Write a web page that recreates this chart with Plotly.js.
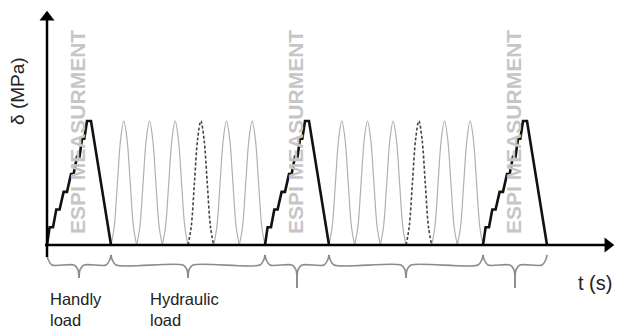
<!DOCTYPE html>
<html>
<head>
<meta charset="utf-8">
<script src="https://cdn.plot.ly/plotly-3.0.1.min.js"></script>
<style>html,body{margin:0;padding:0;background:#fff;}#chart{width:620px;height:331px;}</style>
</head>
<body>
<div id="chart"></div>
<script>
// ---- data (time in arbitrary units, stress in arbitrary units) ----
const segmentType = ['handly', 'hydraulic', 'handly', 'hydraulic', 'handly'];
const segmentStart = [0, 6.4, 21.8, 28.2, 43.6];
const segmentEnd = [6.4, 21.8, 28.2, 43.6, 50.0];
// staircase profile of one manual (handly) loading, relative to its start
const stairTime = [0, 0.26, 0.6, 0.93, 1.26, 1.66, 2.0, 2.4, 2.66, 3.0, 3.26, 3.5, 3.73, 4.0, 4.4, 6.4];
const stairStress = [0, 1, 1, 2, 2, 3, 3, 4, 4, 5, 5, 6, 6, 7, 7, 0];
// one hydraulic load cycle, phase fraction vs stress
const cyclePhase = [0, 0.125, 0.25, 0.375, 0.5, 0.625, 0.75, 0.875, 1];
const cycleStress = [0, 1.03, 3.5, 5.97, 7, 5.97, 3.5, 1.03, 0];
const cyclesPerBlock = 6;
const dashedCycle = 3;
const labels = {
  yTitle: 'δ (MPa)', xTitle: 't (s)', espi: 'ESPI MEASURMENT',
  handly: 'Handly<br>load', hydraulic: 'Hydraulic<br>load'
};

// ---- build traces ----
const traces = [];
const stairX = [], stairY = [];
const grayX = [], grayY = [], dashX = [], dashY = [];
const braceX = [], braceY = [];
const annotations = [];
const BRACE_TOP = -0.56, BRACE_MID = -1.13;

segmentType.forEach((type, i) => {
  const a = segmentStart[i], b = segmentEnd[i];
  if (type === 'handly') {
    stairTime.forEach((t, k) => { stairX.push(a + t); stairY.push(stairStress[k]); });
    stairX.push(null); stairY.push(null);
    annotations.push({x: a + 3.05, y: 6.35, text: labels.espi, textangle: -90, showarrow: false,
      font: {family: 'Liberation Sans, Arial, sans-serif', size: 21, color: '#c6c6c6', weight: 'bold'}});
  } else {
    const period = (b - a) / cyclesPerBlock;
    for (let c = 0; c < cyclesPerBlock; c++) {
      const X = c === dashedCycle ? dashX : grayX, Y = c === dashedCycle ? dashY : grayY;
      cyclePhase.forEach((p, k) => { X.push(a + (c + p) * period); Y.push(cycleStress[k]); });
      X.push(null); Y.push(null);
    }
  }
  // curly brace below the segment
  const mid = (a + b) / 2;
  const tip = type === 'handly' && i > 0 ? -2.42 : -1.86;
  [[a, 1], [b, -1]].forEach(([e, s]) => {
    braceX.push(e, e + s * 0.12, e + s * 0.5, mid - s * 0.5, mid - s * 0.12, mid, mid, null);
    braceY.push(BRACE_TOP, BRACE_MID + 0.3, BRACE_MID, BRACE_MID, BRACE_MID - 0.25, BRACE_MID - 0.7, tip, null);
  });
});

traces.push({x: braceX, y: braceY, mode: 'lines', line: {color: '#8c8c8c', width: 1.6, shape: 'spline', smoothing: 0.8}, hoverinfo: 'skip'});
traces.push({x: grayX, y: grayY, mode: 'lines', line: {color: '#b0b0b0', width: 1.2, shape: 'spline'}, hoverinfo: 'skip'});
traces.push({x: dashX, y: dashY, mode: 'lines', line: {color: '#444', width: 1.6, shape: 'spline', dash: '3px,2px'}, hoverinfo: 'skip'});
traces.push({x: stairX, y: stairY, mode: 'lines', line: {color: '#111', width: 2.6}, hoverinfo: 'skip'});
// axes with arrows
traces.push({x: [0, 0, null, -0.2, 55.8], y: [-0.68, 12.7, null, 0, 0], mode: 'lines', line: {color: '#000', width: 2.5}, hoverinfo: 'skip'});
traces.push({x: [0], y: [12.86], mode: 'markers', marker: {symbol: 'triangle-up', size: 13, color: '#000', line: {width: 0}}, hoverinfo: 'skip'});
traces.push({x: [56.08], y: [0], mode: 'markers', marker: {symbol: 'triangle-right', size: 13, color: '#000', line: {width: 0}}, hoverinfo: 'skip'});

const textFont = {family: 'Liberation Sans, Arial, sans-serif', size: 16.5, color: '#222'};
annotations.push({x: -2.9, y: 8.7, text: labels.yTitle, textangle: -90, showarrow: false,
  font: {family: 'Liberation Sans, Arial, sans-serif', size: 19, color: '#222'}});
annotations.push({x: 54.8, y: -2.15, text: labels.xTitle, showarrow: false,
  font: {family: 'Liberation Sans, Arial, sans-serif', size: 20, color: '#222'}});
annotations.push({x: segmentStart[0] + 0.1, xanchor: 'left', y: -2.45, yanchor: 'top', align: 'left',
  text: labels.handly, showarrow: false, font: textFont});
annotations.push({x: segmentStart[1] + 3.7, xanchor: 'left', y: -2.45, yanchor: 'top', align: 'left',
  text: labels.hydraulic, showarrow: false, font: textFont});

const layout = {
  width: 620, height: 331, margin: {l: 0, r: 0, t: 0, b: 0},
  paper_bgcolor: '#fff', plot_bgcolor: '#fff', showlegend: false,
  xaxis: {range: [-4.7, 57.3], visible: false, fixedrange: true},
  yaxis: {range: [-4.855, 13.831], visible: false, fixedrange: true},
  annotations: annotations
};
Plotly.newPlot('chart', traces, layout, {displayModeBar: false, staticPlot: true});
</script>
</body>
</html>
